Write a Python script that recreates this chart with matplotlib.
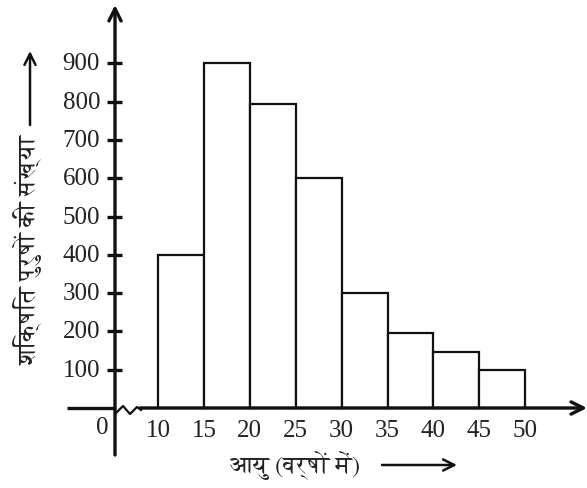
import matplotlib
matplotlib.use('Agg')
import matplotlib.pyplot as plt
from matplotlib import font_manager
from matplotlib.ft2font import FT2Font

# आयु वर्ग (वर्षों में) और शिक्षित पुरुषों की संख्या
age_edges = [10, 15, 20, 25, 30, 35, 40, 45, 50]
counts = [400, 900, 795, 600, 300, 197, 145, 100]
y_ticks = [100, 200, 300, 400, 500, 600, 700, 800, 900]
y_label = 'शिक्षित पुरुषों की संख्या'
x_label = 'आयु (वर्षों में)'


def find_font(ch, prefer=('Serif', 'Sans')):
    # Devanagari वाला कोई font ढूँढो
    found = []
    for f in font_manager.fontManager.ttflist:
        try:
            if ord(ch) in FT2Font(f.fname).get_charmap():
                found.append(f.name)
        except Exception:
            pass
    for p in prefer:
        for n in found:
            if p in n:
                return n
    return found[0] if found else 'DejaVu Sans'


deva = find_font('आ')
num_font = 'Liberation Serif'
num_size = 18

# pixel -> data mapping helpers (x: age, y: count)
px_per_age = 9.18
px_per_cnt = 0.383
x0_px, y0_px = 158, 409


def ax_x(px):
    return 10 + (px - x0_px) / px_per_age


def ax_y(py):
    return (y0_px - py) / px_per_cnt


fig = plt.figure(figsize=(5.87, 4.89), dpi=100)
ax = fig.add_axes([0, 0, 1, 1])
ax.set_xlim(ax_x(0), ax_x(587))
ax.set_ylim(ax_y(489), ax_y(0))
ax.axis('off')

# bars
ax.bar(age_edges[:-1], counts, width=5, align='edge', color='white',
       edgecolor='#111111', linewidth=1.6, zorder=2)

# y axis with arrow
yaxis_x = ax_x(115)
ax.annotate('', xy=(yaxis_x, ax_y(6)), xytext=(yaxis_x, ax_y(456)),
            arrowprops=dict(arrowstyle='->', lw=2.4, color='#111111',
                            mutation_scale=22, shrinkA=0, shrinkB=0), zorder=3)
# x axis: left part, break, right part with arrow
ax.plot([ax_x(67), ax_x(115)], [0, 0], color='#111111', lw=2.4, zorder=3,
        solid_capstyle='butt')
zx = [115, 123, 130, 137, 141]
zy = [415, 407, 415, 408, 411]
ax.plot([ax_x(p) for p in zx], [ax_y(p) for p in zy], color='#111111',
        lw=1.6, zorder=3)
ax.annotate('', xy=(ax_x(587), 0), xytext=(ax_x(140), 0),
            arrowprops=dict(arrowstyle='->', lw=2.4, color='#111111',
                            mutation_scale=22, shrinkA=0, shrinkB=0), zorder=3)

# y ticks and labels
for t in y_ticks:
    ax.plot([ax_x(107), ax_x(122)], [t, t], color='#111111', lw=2.4, zorder=3,
            solid_capstyle='butt')
    ax.text(ax_x(100), t, str(t), ha='right', va='center', fontsize=num_size,
            family=num_font, color='#222222')

# x tick labels
for e in age_edges:
    ax.text(e, ax_y(431), str(e), ha='center', va='center', fontsize=num_size,
            family=num_font, color='#222222')
ax.text(ax_x(102), ax_y(428), '0', ha='center', va='center', fontsize=num_size,
        family=num_font, color='#222222')

# axis titles with arrows
ax.text(ax_x(28), ax_y(250), y_label, rotation=90, ha='center', va='center',
        fontsize=17, family=[deva, 'DejaVu Sans'], color='#222222')
ax.annotate('', xy=(ax_x(30), ax_y(52)), xytext=(ax_x(30), ax_y(126)),
            arrowprops=dict(arrowstyle='->', lw=1.8, color='#111111',
                            mutation_scale=20, shrinkA=0, shrinkB=0))
ax.text(ax_x(295), ax_y(466), x_label, ha='center', va='center',
        fontsize=17, family=[deva, 'DejaVu Sans'], color='#222222')
ax.annotate('', xy=(ax_x(457), ax_y(466)), xytext=(ax_x(382), ax_y(466)),
            arrowprops=dict(arrowstyle='->', lw=1.8, color='#111111',
                            mutation_scale=20, shrinkA=0, shrinkB=0))

fig.savefig('out.png', dpi=100, facecolor='white')
